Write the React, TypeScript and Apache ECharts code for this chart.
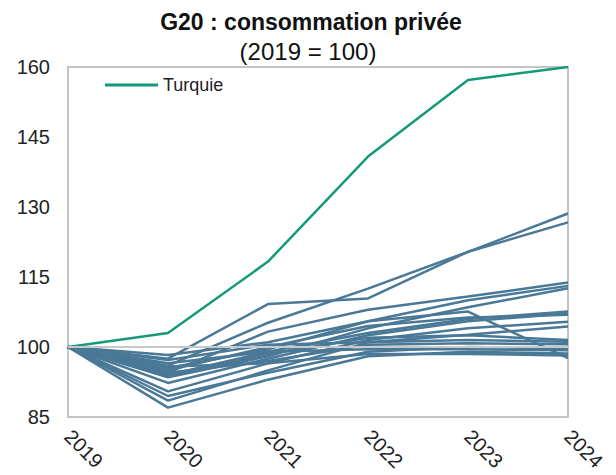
import React, { useEffect, useRef } from "react";
import * as echarts from "echarts";

const years = ["2019", "2020", "2021", "2022", "2023", "2024"];
const yTicks = { min: 85, max: 160, interval: 15 };

const turquie = [100, 103.0, 118.3, 140.8, 157.2, 160.0];

const other1 = [100, 96.0, 105.2, 112.5, 120.4, 128.6];
const other2 = [100, 97.5, 109.2, 110.4, 120.4, 126.7];
const other3 = [100, 94.5, 103.3, 108.0, 110.8, 113.8];
const other4 = [100, 95.5, 99.5, 105.5, 110.0, 113.1];
const other5 = [100, 93.5, 98.0, 104.0, 108.5, 112.6];
const other6 = [100, 98.3, 101.0, 105.5, 107.6, 97.6];
const other7 = [100, 94.0, 99.0, 103.0, 106.0, 107.6];
const other8 = [100, 92.3, 97.5, 102.5, 105.5, 107.2];
const other9 = [100, 95.0, 100.0, 104.5, 106.3, 106.9];
const other10 = [100, 90.5, 96.5, 101.5, 104.0, 105.4];
const other11 = [100, 88.5, 95.0, 101.0, 102.6, 104.4];
const other12 = [100, 97.2, 100.5, 101.0, 101.5, 101.1];
const other13 = [100, 94.5, 97.0, 100.5, 100.8, 100.6];
const other14 = [100, 89.5, 94.5, 99.0, 100.0, 99.7];
const other15 = [100, 87.0, 93.0, 98.0, 99.0, 98.6];
const other16 = [100, 95.8, 96.5, 98.5, 98.5, 98.2];
const other17 = [100, 93.8, 98.5, 102.0, 102.5, 101.5];
const other18 = [100, 96.5, 99.0, 99.5, 99.5, 99.3];

const others = [
  other1, other2, other3, other4, other5, other6, other7, other8, other9,
  other10, other11, other12, other13, other14, other15, other16, other17, other18,
];

const BLUE = "#4a7897";
const GREEN = "#16997a";
const FONT = "'Liberation Sans', Arial, sans-serif";

export default function App() {
  const ref = useRef<HTMLDivElement>(null);
  useEffect(() => {
    if (!ref.current) return;
    const chart = echarts.init(ref.current, null, { renderer: "svg" });
    const series: any[] = [
      {
        name: "ref",
        type: "line",
        data: [],
        z: 1,
        silent: true,
        markLine: {
          silent: true,
          symbol: "none",
          label: { show: false },
          lineStyle: { color: "#c8c8c8", width: 2, type: "solid" },
          data: [{ yAxis: 100 }],
        },
      },
    ];
    others.forEach((d, i) => {
      series.push({
        name: "pays" + (i + 1),
        type: "line",
        data: d,
        symbol: "none",
        z: 3,
        lineStyle: { color: BLUE, width: 2.5 },
        itemStyle: { color: BLUE },
      });
    });
    series.push({
      name: "Turquie",
      type: "line",
      data: turquie,
      symbol: "none",
      z: 4,
      lineStyle: { color: GREEN, width: 2.5 },
      itemStyle: { color: GREEN },
    });
    chart.setOption({
      animation: false,
      textStyle: { fontFamily: FONT },
      grid: {
        left: 68,
        right: 48,
        top: 67,
        bottom: 58,
        show: true,
        borderColor: "#c4c4c4",
        borderWidth: 2,
        backgroundColor: "#ffffff",
      },
      legend: {
        data: [{ name: "Turquie", icon: "rect" }],
        left: 105,
        top: 76,
        padding: 0,
        itemWidth: 53,
        itemHeight: 3,
        itemStyle: { color: GREEN },
        textStyle: { fontSize: 18, color: "#222", fontFamily: FONT },
      },
      graphic: [
        {
          type: "text",
          style: {
            x: 311,
            y: 22,
            text: "G20 : consommation privée",
            fontSize: 23,
            fontWeight: "bold",
            fontFamily: FONT,
            fill: "#111",
            textAlign: "center",
            textVerticalAlign: "middle",
          },
        },
        {
          type: "text",
          style: {
            x: 308,
            y: 51,
            text: "(2019 = 100)",
            fontSize: 24,
            fontFamily: FONT,
            fill: "#111",
            textAlign: "center",
            textVerticalAlign: "middle",
          },
        },
      ],
      xAxis: {
        type: "category",
        data: years,
        boundaryGap: false,
        axisLine: { show: false },
        axisTick: { show: false },
        splitLine: { show: false },
        axisLabel: {
          rotate: -45,
          fontSize: 20,
          color: "#222",
          margin: 16,
          fontFamily: FONT,
        },
      },
      yAxis: {
        type: "value",
        min: yTicks.min,
        max: yTicks.max,
        interval: yTicks.interval,
        axisLine: { show: false },
        axisTick: { show: false },
        splitLine: { show: false },
        axisLabel: { fontSize: 20, color: "#222", margin: 18, fontFamily: FONT },
      },
      series,
    });
    return () => chart.dispose();
  }, []);
  return <div ref={ref} style={{ width: 616, height: 475, position: "absolute", left: 0, top: 0 }} />;
}
